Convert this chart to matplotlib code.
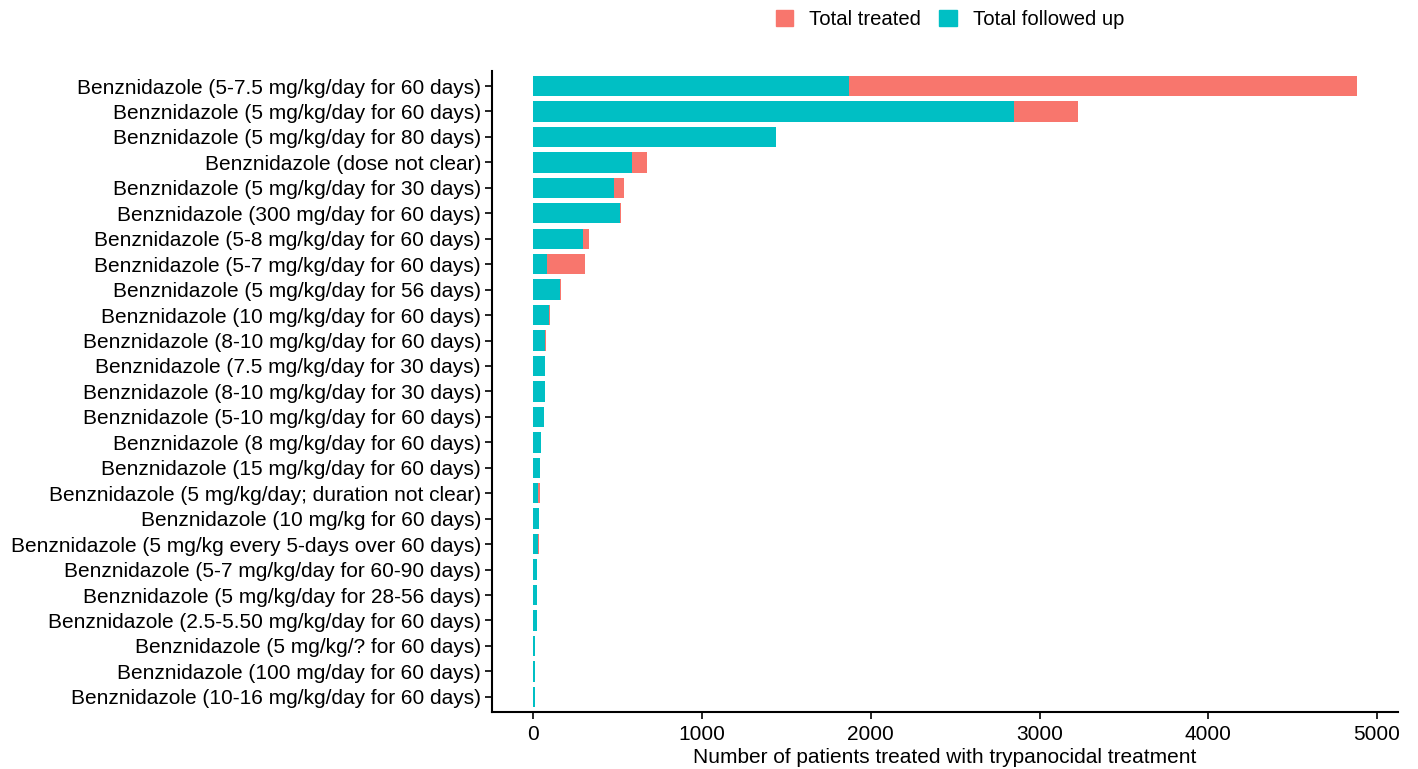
import numpy as np
import matplotlib
matplotlib.use("Agg")
import matplotlib.pyplot as plt
from matplotlib.patches import Patch

plt.rcParams['font.family'] = ['Liberation Sans', 'DejaVu Sans']

# Data (top to bottom, as in the chart)
labels = [
    "Benznidazole (5-7.5 mg/kg/day for 60 days)",
    "Benznidazole (5 mg/kg/day for 60 days)",
    "Benznidazole (5 mg/kg/day for 80 days)",
    "Benznidazole (dose not clear)",
    "Benznidazole (5 mg/kg/day for 30 days)",
    "Benznidazole (300 mg/day for 60 days)",
    "Benznidazole (5-8 mg/kg/day for 60 days)",
    "Benznidazole (5-7 mg/kg/day for 60 days)",
    "Benznidazole (5 mg/kg/day for 56 days)",
    "Benznidazole (10 mg/kg/day for 60 days)",
    "Benznidazole (8-10 mg/kg/day for 60 days)",
    "Benznidazole (7.5 mg/kg/day for 30 days)",
    "Benznidazole (8-10 mg/kg/day for 30 days)",
    "Benznidazole (5-10 mg/kg/day for 60 days)",
    "Benznidazole (8 mg/kg/day for 60 days)",
    "Benznidazole (15 mg/kg/day for 60 days)",
    "Benznidazole (5 mg/kg/day; duration not clear)",
    "Benznidazole (10 mg/kg for 60 days)",
    "Benznidazole (5 mg/kg every 5-days over 60 days)",
    "Benznidazole (5-7 mg/kg/day for 60-90 days)",
    "Benznidazole (5 mg/kg/day for 28-56 days)",
    "Benznidazole (2.5-5.50 mg/kg/day for 60 days)",
    "Benznidazole (5 mg/kg/? for 60 days)",
    "Benznidazole (100 mg/day for 60 days)",
    "Benznidazole (10-16 mg/kg/day for 60 days)",
]
total_treated = [4881, 3229, 1441, 677, 539, 523, 332, 305, 163, 99, 77, 71, 71,
                 61, 49, 43, 41, 34, 35, 25, 20, 20, 12, 10, 10]
total_followed = [1872, 2851, 1441, 584, 476, 515, 293, 79, 159, 94, 69, 70, 71,
                  61, 49, 43, 30, 34, 30, 25, 20, 20, 12, 10, 10]

col_treated = "#F8766D"
col_followed = "#00BFC4"

fig = plt.figure(figsize=(14.18, 7.69), dpi=100)
ax = fig.add_axes([0.347, 0.074, 0.639, 0.834])

y = np.arange(len(labels))[::-1]
ax.barh(y, total_treated, height=0.8, color=col_treated)
ax.barh(y, total_followed, height=0.8, color=col_followed)

ax.set_yticks(y)
ax.set_yticklabels(labels, fontsize=15)
ax.set_ylim(-0.6, len(labels) - 0.4)
ax.set_xlim(-244, 5125)
ax.set_xticks([0, 1000, 2000, 3000, 4000, 5000])
ax.tick_params(axis='x', labelsize=15, length=5, width=1.2, pad=4)
ax.tick_params(axis='y', length=5, width=1.2, pad=3)
ax.set_xlabel("Number of patients treated with trypanocidal treatment",
              fontsize=15, labelpad=3)

for s in ['top', 'right']:
    ax.spines[s].set_visible(False)
for s in ['left', 'bottom']:
    ax.spines[s].set_linewidth(1.5)

handles = [Patch(color=col_treated, label="Total treated"),
           Patch(color=col_followed, label="Total followed up")]
fig.legend(handles=handles, loc='center', bbox_to_anchor=(0.67, 0.975),
           ncol=2, frameon=False, fontsize=14.6, handlelength=0.85,
           handleheight=0.85, handletextpad=0.8, columnspacing=0.9)

fig.savefig("out.png", dpi=100)
